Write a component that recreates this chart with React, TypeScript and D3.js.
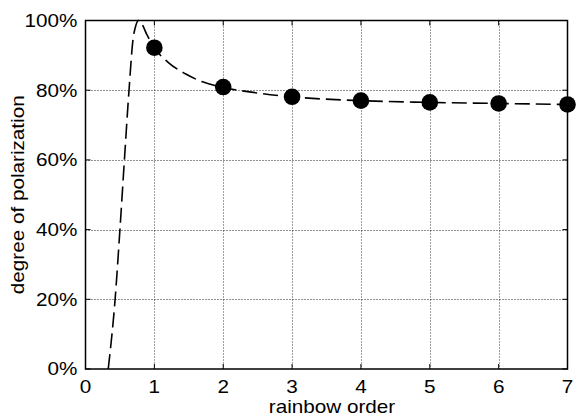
import React from "react";
import * as d3 from "d3";

const orders = [1, 2, 3, 4, 5, 6, 7];
const polarization = [0.922, 0.809, 0.781, 0.770, 0.765, 0.762, 0.759];

const curveOrder = [0.33, 0.43, 0.5, 0.565, 0.632, 0.69, 0.73, 0.77, 0.82, 0.89, 1.0, 1.2, 1.45, 1.7, 2.0, 2.5, 3, 4, 5, 6, 7];
const curvePol = [0, 0.2, 0.4, 0.6, 0.8, 0.945, 0.985, 1.0, 0.99, 0.96, 0.922, 0.88, 0.847, 0.824, 0.808, 0.792, 0.781, 0.770, 0.765, 0.762, 0.759];

const xTicks = [0, 1, 2, 3, 4, 5, 6, 7];
const yTicks = [0, 0.2, 0.4, 0.6, 0.8, 1.0];

const W = 576;
const H = 416;
const L = 85.5, R = 567.5, T = 20.5, B = 369;
const FONT = "'Liberation Sans', Arial, Helvetica, sans-serif";
const FS = 18;
const SX = 1.15;

function SText({ x, y, anchor, rotate = 0, children, dy }: { x: number; y: number; anchor: string; rotate?: number; children: React.ReactNode; dy?: string }) {
  return (
    <g transform={`translate(${x},${y}) rotate(${rotate}) scale(${SX},1)`}>
      <text x={0} y={0} dy={dy} textAnchor={anchor} fontFamily={FONT} fontSize={FS} fill="#000">
        {children}
      </text>
    </g>
  );
}

export default function App() {
  const x = d3.scaleLinear().domain([0, 7]).range([L, R]);
  const y = d3.scaleLinear().domain([0, 1]).range([B, T]);
  const pts = curveOrder.map((o, i) => [o, curvePol[i]] as [number, number]);
  const line = d3
    .line<[number, number]>()
    .x((d) => x(d[0]))
    .y((d) => y(d[1]))
    .curve(d3.curveMonotoneX);
  const fmt = d3.format(".0%");
  return (
    <svg width={W} height={H} style={{ position: "absolute", left: 0, top: 0, background: "#fff" }}>
      <defs>
        <clipPath id="plot">
          <rect x={L} y={T - 2} width={R - L} height={B - T + 2} />
        </clipPath>
      </defs>
      <rect x={0} y={0} width={W} height={H} fill="#fff" />
      {/* grid */}
      {xTicks.slice(1, -1).map((t) => (
        <line key={"gx" + t} x1={Math.round(x(t)) + 0.5} x2={Math.round(x(t)) + 0.5} y1={T} y2={B} stroke="#000" strokeWidth={1} strokeDasharray="1,2" opacity={0.75} />
      ))}
      {yTicks.slice(1, -1).map((t) => (
        <line key={"gy" + t} x1={L} x2={R} y1={Math.round(y(t)) + 0.5} y2={Math.round(y(t)) + 0.5} stroke="#000" strokeWidth={1} strokeDasharray="1,2" opacity={0.85} />
      ))}
      {/* ticks inside */}
      {xTicks.map((t) => (
        <g key={"tx" + t}>
          <line x1={x(t)} x2={x(t)} y1={B} y2={B - 5} stroke="#000" />
          <line x1={x(t)} x2={x(t)} y1={T} y2={T + 5} stroke="#000" />
          <SText x={x(t)} y={B + 24} anchor="middle">{t}</SText>
        </g>
      ))}
      {yTicks.map((t) => (
        <g key={"ty" + t}>
          <line x1={L} x2={L + 5} y1={y(t)} y2={y(t)} stroke="#000" />
          <line x1={R} x2={R - 5} y1={y(t)} y2={y(t)} stroke="#000" />
          <SText x={L - 8} y={y(t)} dy="0.36em" anchor="end">{fmt(t)}</SText>
        </g>
      ))}
      {/* curve */}
      <path d={line(pts) || ""} fill="none" stroke="#000" strokeWidth={1.6} strokeDasharray="15,6" clipPath="url(#plot)" />
      {/* markers */}
      {orders.map((o, i) => (
        <circle key={"m" + o} cx={x(o)} cy={y(polarization[i])} r={8.3} fill="#000" />
      ))}
      {/* box */}
      <rect x={L} y={T} width={R - L} height={B - T} fill="none" stroke="#000" strokeWidth={1.5} />
      {/* titles */}
      <SText x={332} y={413} anchor="middle">rainbow order</SText>
      <SText x={24} y={(T + B) / 2} anchor="middle" rotate={-90}>degree of polarization</SText>
    </svg>
  );
}
